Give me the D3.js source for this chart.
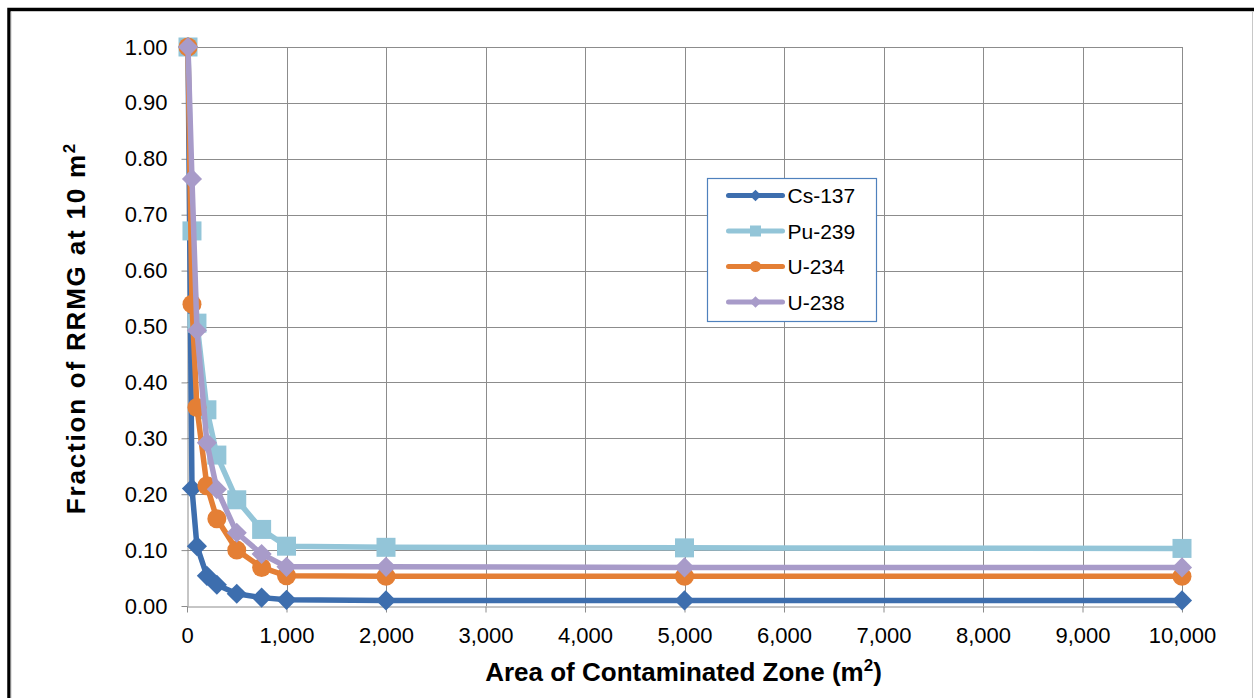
<!DOCTYPE html>
<html>
<head>
<meta charset="utf-8">
<script src="https://cdn.jsdelivr.net/npm/d3@7"></script>
<style>
  body { margin: 0; background: #fff; }
  svg { display: block; font-family: "Liberation Sans", Arial, sans-serif; }
</style>
</head>
<body>
<svg id="chart"></svg>
<script>
// data
const areas = [10, 50, 100, 200, 300, 500, 750, 1000, 2000, 5000, 10000];
const cs137 = [1.0, 0.21, 0.107, 0.054, 0.038, 0.022, 0.015, 0.011, 0.010, 0.010, 0.010];
const pu239 = [1.0, 0.671, 0.506, 0.351, 0.27, 0.19, 0.137, 0.107, 0.105, 0.104, 0.103];
const u234 = [1.0, 0.54, 0.355, 0.215, 0.156, 0.10, 0.069, 0.054, 0.053, 0.053, 0.053];
const u238 = [1.0, 0.764, 0.493, 0.292, 0.209, 0.131, 0.093, 0.070, 0.070, 0.069, 0.069];
const seriesNames = ["Cs-137", "Pu-239", "U-234", "U-238"];
const xTicks = [0, 1000, 2000, 3000, 4000, 5000, 6000, 7000, 8000, 9000, 10000];
const yTicks = [0, 0.1, 0.2, 0.3, 0.4, 0.5, 0.6, 0.7, 0.8, 0.9, 1.0];

const width = 1254, height = 698;
const margin = { top: 47, right: 72, bottom: 92, left: 187 };

const series = [
    { name: "Cs-137", values: cs137, color: "#3d6eae", shape: "diamond" },
    { name: "Pu-239", values: pu239, color: "#93c5d8", shape: "square" },
    { name: "U-234", values: u234, color: "#e47f35", shape: "circle" },
    { name: "U-238", values: u238, color: "#a89bc9", shape: "diamond" }
];

const svg = d3.select("#chart")
    .attr("width", width)
    .attr("height", height);

// frame
svg.append("path")
    .attr("d", `M9,${height + 5} V9.5 H${width + 5}`)
    .attr("fill", "none")
    .attr("stroke", "#000")
    .attr("stroke-width", 3.5);
svg.append("path")
    .attr("d", `M11,${height + 5} V11.5 H${width - 1.5} V${height + 5}`)
    .attr("fill", "none")
    .attr("stroke", "#c8c8c8")
    .attr("stroke-width", 1);

const x = d3.scaleLinear()
    .domain([0, 10000])
    .range([margin.left, width - margin.right]);

const y = d3.scaleLinear()
    .domain([0, 1])
    .range([height - margin.bottom, margin.top]);

// grid
svg.append("g")
    .selectAll("line.v")
    .data(xTicks.slice(1))
    .join("line")
    .attr("x1", d => Math.round(x(d)) + 0.5).attr("x2", d => Math.round(x(d)) + 0.5)
    .attr("y1", y(1)).attr("y2", y(0))
    .attr("stroke", "#8c8c8c");

svg.append("g")
    .selectAll("line.h")
    .data(yTicks.slice(1))
    .join("line")
    .attr("x1", x(0)).attr("x2", x(10000))
    .attr("y1", d => Math.round(y(d)) + 0.5).attr("y2", d => Math.round(y(d)) + 0.5)
    .attr("stroke", "#8c8c8c");

// axes
const xAxis = svg.append("g")
    .attr("transform", `translate(0, ${Math.round(y(0)) + 0.5})`)
    .call(d3.axisBottom(x).tickValues(xTicks).tickFormat(d3.format(",")).tickSize(6).tickSizeOuter(0).tickPadding(15));

const yAxis = svg.append("g")
    .attr("transform", `translate(${Math.round(x(0)) + 0.5}, 0)`)
    .call(d3.axisLeft(y).tickValues(yTicks).tickFormat(d3.format(".2f")).tickSize(6).tickSizeOuter(0).tickPadding(14));

[xAxis, yAxis].forEach(a => {
    a.select(".domain").attr("stroke", "#8c8c8c").attr("stroke-width", 1);
    a.selectAll(".tick line").attr("stroke", "#8c8c8c");
    a.selectAll(".tick text")
        .attr("fill", "#000")
        .style("font-size", "22px")
        .style("font-family", "'Liberation Sans', Arial, sans-serif");
});

// axis titles
svg.append("text")
    .attr("x", (x(0) + x(10000)) / 2 - 1)
    .attr("y", 681)
    .attr("text-anchor", "middle")
    .style("font-size", "26px")
    .style("font-weight", "bold")
    .html("Area of Contaminated Zone (m<tspan dy='-10' font-size='17px'>2</tspan><tspan dy='10'>)</tspan>");

svg.append("text")
    .attr("transform", "rotate(-90)")
    .attr("x", -328)
    .attr("y", 85)
    .attr("text-anchor", "middle")
    .style("font-size", "26px")
    .style("font-weight", "bold")
    .style("letter-spacing", "1.8px")
    .html("Fraction of RRMG at 10 m<tspan dy='-10' font-size='17px'>2</tspan>");

// marker helper
function marker(g, shape, color, cx, cy, s) {
    if (shape === "circle") {
        g.append("circle").attr("cx", cx).attr("cy", cy).attr("r", s * 0.5).attr("fill", color);
    } else if (shape === "square") {
        g.append("rect").attr("x", cx - s / 2).attr("y", cy - s / 2)
            .attr("width", s).attr("height", s).attr("fill", color);
    } else {
        const r = s * 0.53;
        g.append("path")
            .attr("d", `M${cx},${cy - r} L${cx + r},${cy} L${cx},${cy + r} L${cx - r},${cy} Z`)
            .attr("fill", color);
    }
}

const line = d3.line()
    .x(d => x(d[0]))
    .y(d => y(d[1]));

// series
series.forEach(s => {
    const pts = areas.map((a, i) => [a, s.values[i]]);
    const g = svg.append("g");
    g.append("path")
        .datum(pts)
        .attr("d", line)
        .attr("fill", "none")
        .attr("stroke", s.color)
        .attr("stroke-width", 5.5)
        .attr("stroke-linejoin", "round");
    pts.forEach(p => marker(g, s.shape, s.color, x(p[0]), y(p[1]), 19));
});

// legend
const legend = svg.append("g")
    .attr("transform", "translate(707.5, 178.5)");

legend.append("rect")
    .attr("width", 169)
    .attr("height", 143)
    .attr("fill", "#fff")
    .attr("stroke", "#4f81bd")
    .attr("stroke-width", 1.2);

series.forEach((s, i) => {
    const ly = 17 + i * 35.5;
    legend.append("line")
        .attr("x1", 21).attr("x2", 75)
        .attr("y1", ly).attr("y2", ly)
        .attr("stroke", s.color)
        .attr("stroke-width", 5)
        .attr("stroke-linecap", "round");
    marker(legend, s.shape, s.color, 48, ly, 11);
    legend.append("text")
        .attr("x", 80)
        .attr("y", ly + 7.5)
        .style("font-size", "21px")
        .attr("fill", "#000")
        .text(seriesNames[i]);
});
</script>
</body>
</html>
